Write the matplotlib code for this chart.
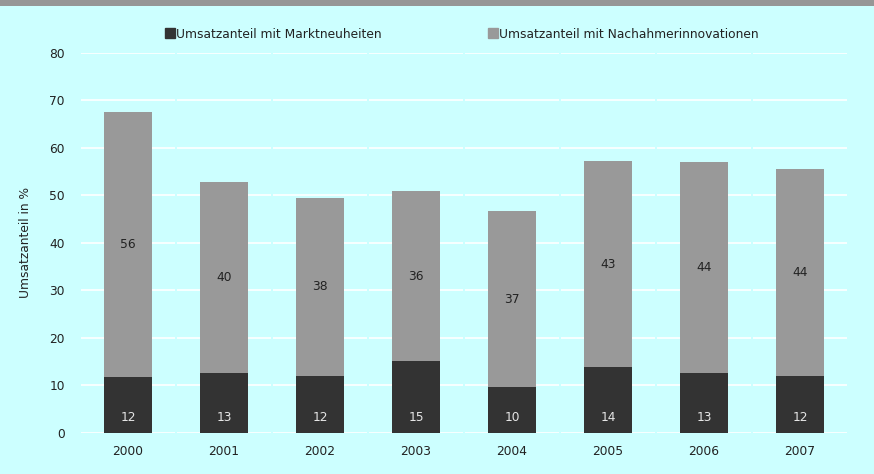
import matplotlib
matplotlib.use("Agg")
import matplotlib.pyplot as plt
from matplotlib.patches import Rectangle
from matplotlib.lines import Line2D
import numpy as np

years = ["2000", "2001", "2002", "2003", "2004", "2005", "2006", "2007"]
markt = [11.7, 12.6, 11.9, 15.1, 9.6, 13.8, 12.6, 11.9]
nachahmer = [55.9, 40.1, 37.6, 35.7, 37.0, 43.4, 44.3, 43.7]
markt_labels = [12, 13, 12, 15, 10, 14, 13, 12]
nachahmer_labels = [56, 40, 38, 36, 37, 43, 44, 44]
yticks = [0, 10, 20, 30, 40, 50, 60, 70, 80]

bg = "#CCFFFF"
dark = "#333333"
gray = "#999999"
fs = 8.8

plt.rcParams['font.family'] = ['DejaVu Sans']
fig = plt.figure(figsize=(8.74, 4.74), dpi=100, facecolor=bg)
ax = fig.add_axes([80/874, 41.3/474, 768/874, 380/474], facecolor=bg)

x = np.arange(len(years))
# gridlines as segments per category (small gaps at boundaries)
for yv in yticks:
    ax.hlines([yv]*len(x), x - 0.49, x + 0.49, colors="white", linewidth=1.2, zorder=1)

ax.bar(x, markt, width=0.5, color=dark, zorder=2, label="Umsatzanteil mit Marktneuheiten")
ax.bar(x, nachahmer, width=0.5, bottom=markt, color=gray, zorder=2,
       label="Umsatzanteil mit Nachahmerinnovationen")

for i in range(len(x)):
    ax.text(x[i], 3.1, str(markt_labels[i]), ha="center", va="center",
            fontsize=fs, color="#E6E6E6", zorder=3)
    ax.text(x[i], markt[i] + nachahmer[i] / 2, str(nachahmer_labels[i]),
            ha="center", va="center", fontsize=fs, color="#222222", zorder=3)

ax.set_xlim(-0.5, len(x) - 0.5)
ax.set_ylim(0, 80)
ax.set_yticks(yticks)
ax.set_xticks(x)
ax.set_xticklabels(years)
ax.tick_params(axis="both", length=0, labelsize=fs, colors="#222222")
ax.tick_params(axis="y", pad=11)
ax.tick_params(axis="x", pad=9)
for s in ax.spines.values():
    s.set_visible(False)
ax.set_ylabel("Umsatzanteil in %", fontsize=fs, color="#222222", labelpad=12)

# top gray band
fig.patches.append(Rectangle((0, 1 - 6/474), 1, 6/474, transform=fig.transFigure,
                             facecolor="#969696", edgecolor="none"))

handles = [Line2D([], [], marker="s", linestyle="none", markersize=7.2,
                  markerfacecolor=dark, markeredgecolor=dark),
           Line2D([], [], marker="s", linestyle="none", markersize=7.2,
                  markerfacecolor=gray, markeredgecolor=gray)]
fig.legend(handles, ["Umsatzanteil mit Marktneuheiten", "Umsatzanteil mit Nachahmerinnovationen"],
           loc="center", bbox_to_anchor=(462/874, 1 - 34/474), ncol=2, frameon=False,
           fontsize=fs, handlelength=0.8, handletextpad=0.1, columnspacing=8.7,
           labelcolor="#222222")

fig.savefig("out.png", dpi=100, facecolor=bg)
